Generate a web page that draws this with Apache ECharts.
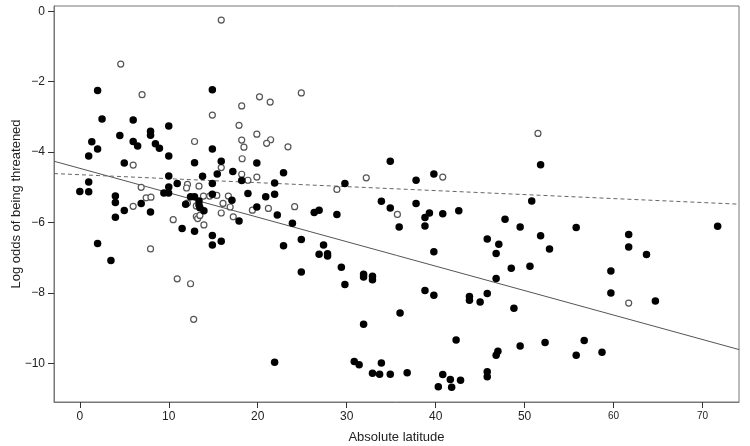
<!DOCTYPE html>
<html>
<head>
<meta charset="utf-8">
<script src="https://cdn.jsdelivr.net/npm/echarts@6/dist/echarts.min.js"></script>
<style>html,body{margin:0;padding:0;background:#fff}#c{width:750px;height:446px}</style>
</head>
<body>
<div id="c"></div>
<script>
// Filled points (absolute latitude, log odds)
var filledLat = [0.0,1.0,1.0,1.0,1.35,2.0,2.0,2.0,2.5,3.5,4.0,4.0,4.0,4.5,5.0,5.0,6.0,6.0,6.5,6.9,7.95,7.95,7.95,8.5,8.95,10.0,10.0,10.0,10.0,9.45,9.98,10.95,11.5,11.9,12.45,12.9,12.9,12.9,13.4,13.4,13.5,13.8,13.95,14.9,14.9,14.9,14.9,14.9,14.9,15.45,15.9,15.9,17.2,17.1,17.9,18.2,18.9,19.9,19.9,20.9,21.9,21.9,22.2,22.9,22.9,23.9,24.9,24.9,21.9,26.35,26.9,27.4,26.9,27.85,27.85,28.9,29.4,29.8,29.8,30.85,31.4,31.9,31.9,31.9,32.9,32.9,32.9,33.7,33.9,33.9,34.9,34.9,34.9,35.9,36.0,36.8,37.8,37.8,38.8,39.3,38.8,39.8,39.8,38.8,39.8,40.8,40.8,40.3,41.65,41.8,42.3,42.6,42.8,43.8,43.8,45.0,45.8,45.8,45.8,45.8,46.8,46.8,46.8,47.0,47.1,47.8,48.5,48.8,49.5,49.5,50.6,50.8,51.8,51.8,52.3,52.8,55.8,55.8,56.7,58.7,59.7,59.7,61.7,61.7,63.7,64.7,71.7];
var filledOdds = [-5.12,-5.13,-4.85,-4.11,-3.71,-3.91,-2.25,-6.60,-3.06,-7.08,-5.25,-5.43,-5.85,-3.53,-4.31,-5.66,-3.09,-3.70,-3.83,-5.46,-3.41,-3.52,-5.70,-3.76,-3.89,-3.26,-4.11,-4.68,-4.99,-5.16,-5.16,-4.89,-6.17,-5.48,-5.27,-5.27,-4.30,-6.25,-5.39,-5.50,-5.58,-4.69,-5.67,-2.23,-3.91,-4.89,-5.20,-6.37,-6.64,-4.62,-4.26,-6.53,-4.55,-5.37,-5.96,-4.81,-5.18,-4.31,-5.56,-5.27,-4.88,-5.20,-5.79,-4.59,-6.66,-6.02,-6.48,-7.41,-9.97,-5.72,-5.65,-6.64,-6.90,-6.89,-6.95,-5.77,-7.27,-4.89,-7.76,-9.95,-10.04,-7.47,-7.55,-8.89,-7.53,-7.63,-10.28,-10.31,-5.40,-9.99,-4.26,-5.59,-10.31,-6.13,-8.57,-10.27,-4.80,-5.46,-5.86,-5.73,-6.10,-4.62,-6.83,-7.93,-8.07,-5.75,-10.32,-10.67,-10.46,-10.68,-9.34,-5.67,-10.48,-8.10,-8.21,-8.26,-6.47,-8.02,-10.24,-10.38,-6.88,-7.59,-9.77,-9.66,-6.62,-5.91,-7.30,-8.44,-6.13,-9.51,-7.24,-5.39,-4.36,-6.38,-9.41,-6.75,-6.14,-9.77,-9.35,-9.69,-7.38,-8.00,-6.34,-6.70,-6.91,-8.23,-6.11];
// Open points
var openLat = [15.9,4.6,7.0,14.9,12.9,6.0,15.9,12.1,12.0,13.4,6.9,7.46,8.0,13.9,14.6,15.4,16.7,12.1,6.0,13.1,16.1,16.9,15.9,17.25,13.1,13.25,13.5,10.5,13.95,7.95,10.95,12.45,12.8,24.9,20.2,21.4,18.2,17.9,19.9,18.2,21.45,21.0,18.45,23.4,18.25,18.2,19.9,18.9,32.2,28.9,19.4,21.2,24.15,35.7,51.5,40.8,61.7];
var openOdds = [-0.25,-1.5,-2.37,-2.95,-3.70,-4.37,-4.44,-4.92,-5.02,-4.97,-5.00,-5.30,-5.28,-5.25,-5.25,-5.23,-5.25,-5.45,-5.54,-5.53,-5.46,-5.56,-5.73,-5.84,-5.83,-5.89,-5.80,-5.92,-6.07,-6.75,-7.60,-7.74,-8.75,-2.32,-2.43,-2.58,-2.69,-3.24,-3.49,-3.66,-3.65,-3.75,-3.86,-3.85,-4.19,-4.63,-4.71,-4.80,-4.73,-5.06,-5.65,-5.60,-5.55,-5.77,-3.47,-4.71,-8.29];
// Fitted lines (endpoints)
var lineLat = [-2.9, 74.1];
var solidOdds = [-4.26, -9.61];
var dashedOdds = [-4.61, -5.48];
// Ticks
var xTicks = [0,10,20,30,40,50,60,70];
var yTicks = [-10,-8,-6,-4,-2,0];

function zip(a,b){return a.map(function(v,i){return [v,b[i]];});}
var font = "'Liberation Sans', Arial, sans-serif";
var chart = echarts.init(document.getElementById('c'));
chart.setOption({
  animation:false,
  backgroundColor:'#fff',
  grid:{left:54,right:11,top:6,bottom:44,show:true,borderColor:'#777',borderWidth:1,
    containLabel:false,outerBoundsMode:'none'},
  xAxis:{type:'value',min:-2.9,max:74.1,position:'bottom',
    name:'Absolute latitude',nameLocation:'middle',nameGap:29,nameMoveOverlap:false,
    nameTextStyle:{fontFamily:font,fontSize:13,color:'#222'},
    axisLine:{show:true,onZero:false,lineStyle:{color:'#777',width:1}},splitLine:{show:false},
    axisTick:{show:true,inside:false,length:6,customValues:xTicks,lineStyle:{color:'#333',width:1}},
    axisLabel:{customValues:xTicks,margin:9,fontFamily:font,fontSize:12,color:'#222',
      formatter:function(v){return v>=60?'{s|'+v+'}':String(v);},
      rich:{s:{fontSize:10,fontFamily:font,color:'#222'}}}},
  yAxis:{type:'value',min:-11.1,max:0.15,position:'left',
    name:'Log odds of being threatened',nameLocation:'middle',nameGap:31,nameRotate:90,nameMoveOverlap:false,
    nameTextStyle:{fontFamily:font,fontSize:13,color:'#222'},
    axisLine:{show:true,onZero:false,lineStyle:{color:'#777',width:1}},splitLine:{show:false},
    axisTick:{show:true,inside:false,length:6,customValues:yTicks,lineStyle:{color:'#333',width:1}},
    axisLabel:{customValues:yTicks,margin:9,fontFamily:font,fontSize:12,color:'#222',
      formatter:function(v){return v<0?'\u2212'+Math.abs(v):String(v);}}},
  series:[
    {type:'line',data:zip(lineLat,solidOdds),symbol:'none',z:1,lineStyle:{color:'#555',width:1}},
    {type:'line',data:zip(lineLat,dashedOdds),symbol:'none',z:1,lineStyle:{color:'#666',width:1,type:[4,3]}},
    {type:'scatter',data:zip(openLat,openOdds),symbol:'circle',symbolSize:6,z:3,
      itemStyle:{color:'#fff',borderColor:'#555',borderWidth:1.2,opacity:1}},
    {type:'scatter',data:zip(filledLat,filledOdds),symbol:'circle',symbolSize:7.5,z:4,
      itemStyle:{color:'#000',opacity:1}}
  ]
});
</script>
</body>
</html>
